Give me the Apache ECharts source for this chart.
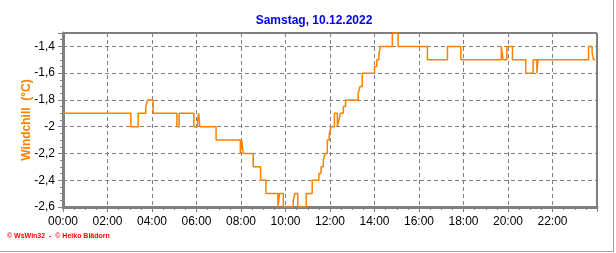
<!DOCTYPE html>
<html>
<head>
<meta charset="utf-8">
<script src="https://cdn.jsdelivr.net/npm/echarts@6/dist/echarts.min.js"></script>
<style>
html,body{margin:0;padding:0;background:#fff;}
#c{width:616px;height:253px;}
</style>
</head>
<body>
<div id="c"></div>
<script>
// time in hours (value holds from this time until next)
const times = [0.0,3.05,3.38,3.72,3.8,4.05,5.12,5.22,5.88,6.05,6.1,6.15,6.88,7.97,8.03,8.1,8.55,8.88,9.12,9.66,9.73,9.9,10.35,10.42,10.55,10.93,11.2,11.5,11.6,11.7,11.78,11.88,11.97,12.05,12.2,12.33,12.4,12.47,12.6,12.7,13.27,13.35,13.45,14.0,14.1,14.2,14.27,14.8,15.06,16.38,17.28,17.88,19.7,19.78,19.95,20.2,20.8,21.13,21.3,21.35,23.62,23.78,23.85,23.92];
const windchill = [-1.9,-2.0,-1.9,-1.85,-1.8,-1.9,-2.0,-1.9,-2.0,-1.95,-1.9,-2.0,-2.1,-2.2,-2.1,-2.2,-2.3,-2.4,-2.5,-2.6,-2.5,-2.6,-2.55,-2.5,-2.6,-2.5,-2.4,-2.35,-2.3,-2.25,-2.2,-2.1,-2.05,-2.0,-1.9,-2.0,-1.95,-1.9,-1.85,-1.8,-1.75,-1.7,-1.6,-1.55,-1.5,-1.45,-1.4,-1.3,-1.4,-1.5,-1.4,-1.5,-1.4,-1.5,-1.4,-1.5,-1.6,-1.5,-1.6,-1.5,-1.4,-1.45,-1.5,-1.5];
const titleText = 'Samstag, 10.12.2022';
const yName = 'Windchill  (°C)';
const footer = '© WsWin32  -  © Heiko Blädorn';

const data = times.map((t,i)=>[t, windchill[i]]);
const chart = echarts.init(document.getElementById('c'), null, {renderer:'canvas'});
const FONT = 'Liberation Sans, Arial, sans-serif';
chart.setOption({
  animation:false,
  backgroundColor:'#fff',
  title:{text:titleText,left:309,textAlign:'center',top:10,
    textStyle:{color:'#0000ee',fontSize:12,fontWeight:'bold',fontFamily:FONT}},
  grid:{left:63,right:19,top:33,bottom:46,show:true,borderColor:'#000',borderWidth:1,backgroundColor:'#fff'},
  xAxis:{type:'value',min:0,max:24,interval:2,
    axisLine:{show:true,onZero:false,lineStyle:{color:'#808080',width:3}},
    axisTick:{show:true,length:5,lineStyle:{color:'#808080',width:1}},
    minorTick:{show:true,splitNumber:4,length:3,lineStyle:{color:'#808080'}},
    axisLabel:{color:'#000',fontSize:12,fontFamily:FONT,margin:9,
      formatter:v=> v>=24 ? '' : (v<10?'0':'')+v+':00'},
    splitLine:{show:true,lineStyle:{color:'#808080',type:[4,3],width:1}}},
  yAxis:{type:'value',min:-2.6,max:-1.3,interval:0.2,
    name:yName,nameLocation:'middle',nameGap:30,nameMoveOverlap:false,
    nameTextStyle:{color:'#ff8000',fontSize:12,fontWeight:'bold',fontFamily:FONT},
    axisLine:{show:true,lineStyle:{color:'#808080',width:3}},
    axisTick:{show:true,length:5,lineStyle:{color:'#808080',width:1}},
    minorTick:{show:true,splitNumber:4,length:3,lineStyle:{color:'#808080'}},
    axisLabel:{color:'#000',fontSize:12,fontFamily:FONT,margin:8,
      formatter:v=>{ if(Math.abs(v+1.3)<1e-6) return '';
        const r=Math.round(v*10)/10; return (Number.isInteger(r)?String(r):r.toFixed(1)).replace('.',',');}},
    splitLine:{show:true,lineStyle:{color:'#808080',type:[4,3],width:1}}},
  series:[{type:'line',data:data,step:'end',showSymbol:false,
    lineStyle:{color:'#ff8000',width:1.5},itemStyle:{color:'#ff8000'}}],
  graphic:[
    {type:'text',left:7,top:233,style:{text:footer,fill:'#ff0000',font:'bold 7px '+FONT}},
    {type:'line',shape:{x1:613.5,y1:0,x2:613.5,y2:251},style:{stroke:'#a0a0a0',lineWidth:1}},
    {type:'line',shape:{x1:0,y1:251.5,x2:614,y2:251.5},style:{stroke:'#a0a0a0',lineWidth:1}}
  ]
});
</script>
</body>
</html>
